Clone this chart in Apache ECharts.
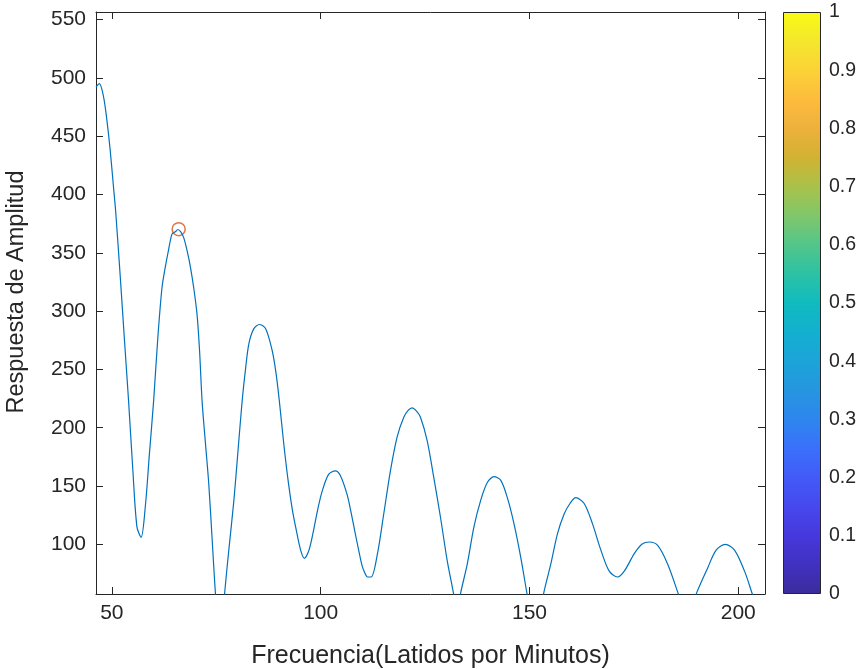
<!DOCTYPE html>
<html>
<head>
<meta charset="utf-8">
<script src="https://cdn.jsdelivr.net/npm/echarts@6/dist/echarts.min.js"></script>
<style>
  html, body { margin: 0; padding: 0; background: #fff; }
  #chart { width: 862px; height: 669px; }
</style>
</head>
<body>
<div id="chart"></div>
<script>
  // espectro (frecuencia en lpm, amplitud)
  const freq = [46.2, 47.0, 48.0, 48.8, 49.6, 50.4, 50.9, 52.0, 53.0, 54.0, 55.0, 56.0, 57.0, 58.0, 59.0,
    60.0, 61.0, 62.0, 62.8, 63.6, 64.4, 65.2, 65.8, 66.5, 67.2, 68.0, 68.8, 69.6, 70.4, 71.0, 71.6,
    72.4, 73.2, 74.0, 74.8, 75.9, 77.0, 78.0, 79.2, 80.2, 81.2, 82.0, 82.8, 84.0, 85.3, 86.8, 88.4,
    89.3, 90.1, 91.2, 92.3, 93.2, 94.0, 95.2, 96.1, 97.2, 98.3, 99.3, 100.4, 101.9, 103.5, 104.7,
    106.3, 107.3, 108.3, 109.1, 109.9, 110.5, 111.2, 112.1, 113.6, 115.1, 116.7, 118.3, 119.9, 121.0,
    121.9, 123.0, 123.9, 125.5, 127.1, 128.7, 130.3, 131.8, 132.6, 133.5, 135.1, 136.7, 138.3, 139.9,
    141.5, 143.1, 144.7, 146.3, 147.9, 149.4, 151.4, 153.4, 155.1, 156.7, 158.3, 159.7, 161.1, 163.1,
    165.1, 167.1, 169.1, 171.1, 172.7, 175.1, 176.9, 178.7, 180.7, 183.1, 185.5, 187.8, 190.1, 192.7,
    194.7, 196.9, 199.1, 201.5, 203.3, 206.4];
  const amp = [492, 495, 484, 464, 438, 406, 386, 330, 276, 223, 165, 115, 106, 132, 178,
    223, 277, 320, 338, 353, 366, 368, 370, 368, 363, 352, 338, 320, 297, 266, 223,
    187, 152, 105, 58, 10, 58, 95, 137, 180, 223, 250, 272, 285, 288.5, 285, 266,
    247, 223, 185, 152, 130, 115, 95, 88, 95, 112, 130, 146, 160, 163, 159,
    143, 127, 109, 95, 82, 76, 72, 72, 92, 126, 163, 192, 209, 215,
    217, 214, 209, 189, 157, 123, 86, 58, 40, 58, 83, 115, 137.5, 153,
    158, 155, 140, 117.5, 89, 58, 20, 58, 83, 109, 126, 135, 140, 135,
    117.5, 95, 77, 72, 77, 92, 100, 102, 99, 83, 59, 35, 59, 80,
    95, 100, 95, 77, 58, 25];

  // pico marcado
  const peakFreq = [66.0];
  const peakAmp = [370.3];

  const xTicks = [50, 100, 150, 200];
  const yTicks = [100, 150, 200, 250, 300, 350, 400, 450, 500, 550];
  const cbTicks = [0, 0.1, 0.2, 0.3, 0.4, 0.5, 0.6, 0.7, 0.8, 0.9, 1];

  const xMin = 46.2, xMax = 206.4;
  const yMin = 57.4, yMax = 556.5;

  const fontFam = 'Liberation Sans';
  const ink = '#262626';

  // parula aproximado
  const parula = [
    [0.00, '#3b2c9c'], [0.05, '#4131c0'], [0.10, '#4638dc'], [0.15, '#4648ee'],
    [0.20, '#435af8'], [0.25, '#3a70fb'], [0.30, '#2e86ee'], [0.35, '#2696e0'],
    [0.40, '#1ca4d8'], [0.45, '#12b0cf'], [0.50, '#10bbbf'], [0.55, '#2cc2a4'],
    [0.60, '#52c68a'], [0.65, '#80c76a'], [0.70, '#a9c24a'], [0.75, '#d2b232'],
    [0.80, '#edb13c'], [0.85, '#fdbc3c'], [0.90, '#fcd237'], [0.95, '#f4e72c'],
    [1.00, '#f9fb14']
  ];
  const cbGradient = new echarts.graphic.LinearGradient(0, 0, 0, 1,
    parula.map(p => ({ offset: 1 - p[0], color: p[1] })).reverse());

  const lineData = freq.map((f, i) => [f, amp[i]]);
  const peakData = peakFreq.map((f, i) => [f, peakAmp[i]]);

  const axisLine = { show: true, onZero: false, lineStyle: { color: ink, width: 1 } };

  const option = {
    backgroundColor: '#fff',
    animation: false,
    grid: [
      { left: 96, right: 97, top: 12, bottom: 75, containLabel: false, outerBoundsMode: 'none' },
      { left: 783, width: 38, top: 12, bottom: 75, containLabel: false, outerBoundsMode: 'none' }
    ],
    xAxis: [
      {
        type: 'value', gridIndex: 0, min: xMin, max: xMax, position: 'bottom',
        name: 'Frecuencia(Latidos por Minutos)', nameLocation: 'middle', nameGap: 50,
        nameTextStyle: { fontFamily: fontFam, fontSize: 25, color: ink },
        axisLine: axisLine,
        axisTick: { inside: true, length: 7, lineStyle: { color: ink }, customValues: xTicks },
        axisLabel: { customValues: xTicks, margin: 9, fontFamily: fontFam, fontSize: 21, color: ink },
        splitLine: { show: false }
      },
      {
        type: 'value', gridIndex: 0, min: xMin, max: xMax, position: 'top',
        axisLine: axisLine,
        axisTick: { inside: true, length: 7, lineStyle: { color: ink }, customValues: xTicks },
        axisLabel: { show: false },
        splitLine: { show: false }
      },
      {
        type: 'category', gridIndex: 1, data: [''],
        axisLine: { show: false }, axisTick: { show: false }, axisLabel: { show: false }
      }
    ],
    yAxis: [
      {
        type: 'value', gridIndex: 0, min: yMin, max: yMax, position: 'left',
        name: 'Respuesta de Amplitud', nameLocation: 'middle', nameGap: 67,
        nameTextStyle: { fontFamily: fontFam, fontSize: 23.5, color: ink, padding: [0, 0, 0, 22] },
        axisLine: axisLine,
        axisTick: { inside: true, length: 7, lineStyle: { color: ink }, customValues: yTicks },
        axisLabel: { customValues: yTicks, margin: 10, fontFamily: fontFam, fontSize: 21, color: ink },
        splitLine: { show: false }
      },
      {
        type: 'value', gridIndex: 0, min: yMin, max: yMax, position: 'right',
        axisLine: axisLine,
        axisTick: { inside: true, length: 7, lineStyle: { color: ink }, customValues: yTicks },
        axisLabel: { show: false },
        splitLine: { show: false }
      },
      {
        type: 'value', gridIndex: 1, min: 0, max: 1, position: 'right',
        axisLine: { show: false },
        axisTick: { inside: true, length: 6, lineStyle: { color: ink }, customValues: cbTicks },
        axisLabel: { customValues: cbTicks, margin: 8, fontFamily: fontFam, fontSize: 19.5, color: ink },
        splitLine: { show: false }
      }
    ],
    series: [
      {
        type: 'line', xAxisIndex: 0, yAxisIndex: 0, data: lineData,
        showSymbol: false, clip: true, smooth: 0.3,
        lineStyle: { color: '#0072BD', width: 1.2 }
      },
      {
        type: 'scatter', xAxisIndex: 0, yAxisIndex: 0, data: peakData,
        symbol: 'circle', symbolSize: 13,
        itemStyle: { color: 'rgba(0,0,0,0)', borderColor: '#D95319', borderWidth: 1.5 }
      },
      {
        type: 'bar', xAxisIndex: 2, yAxisIndex: 2, data: [1], barWidth: '100%',
        itemStyle: { color: cbGradient, borderColor: ink, borderWidth: 1 },
        z: 1
      }
    ]
  };

  const chart = echarts.init(document.getElementById('chart'));
  chart.setOption(option);
</script>
</body>
</html>
